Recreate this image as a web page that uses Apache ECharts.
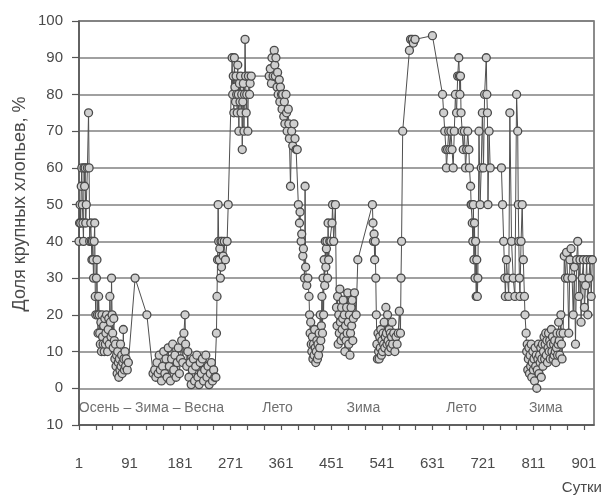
<!DOCTYPE html>
<html><head><meta charset="utf-8">
<script src="https://cdn.jsdelivr.net/npm/echarts@6/dist/echarts.min.js"></script>
<style>html,body{margin:0;padding:0;background:#fff}#c{width:603px;height:498px}</style>
</head><body><div id="c"></div>
<script>
// [day, share of large flakes, %]
const autumnWinterSpring = [[1,40],[2,45],[3,50],[4,45],[5,55],[6,60],[7,50],[8,45],[9,40],[10,60],[11,55],[12,60],[13,45],[14,50],[16,60],[18,75],[19,60],[20,40],[22,45],[23,40],[24,35],[25,40],[26,35],[27,30],[28,40],[29,45],[30,25],[31,20],[32,30],[33,35],[34,20],[35,15],[36,25],[37,20],[38,15],[39,12],[40,18],[41,10],[42,20],[43,14],[44,12],[45,17],[46,10],[47,19],[48,12],[49,15],[50,20],[51,13],[52,10],[53,16],[54,19],[55,12],[56,25],[57,18],[58,14],[59,30],[60,20],[61,15],[62,11],[63,19],[64,13],[65,8],[66,12],[67,6],[68,9],[69,4],[70,10],[71,7],[72,3],[73,8],[74,5],[75,12],[76,6],[77,9],[78,4],[79,7],[80,16],[81,8],[82,5],[83,10],[84,6],[85,8],[87,5],[89,7],[101,30],[122,20],[133,4],[136,5],[138,3],[140,7],[142,4],[144,9],[146,5],[148,2],[150,6],[152,10],[154,4],[156,8],[158,3],[160,11],[162,6],[164,2],[166,8],[168,12],[170,5],[172,9],[174,3],[176,7],[178,11],[180,4],[182,8],[184,13],[186,7],[188,15],[190,20],[191,12],[193,6],[195,10],[197,3],[199,7],[201,1],[203,5],[205,8],[207,2],[209,6],[211,9],[213,3],[215,1],[217,7],[219,4],[221,8],[223,2],[225,5],[227,9],[229,3],[231,6],[233,1],[235,4],[237,7],[239,2],[241,5],[243,3],[245,3],[246,15],[247,25],[248,35],[249,50],[250,40],[251,35],[252,38],[253,30],[254,40],[255,33],[256,40],[258,36],[260,40],[262,35],[265,40],[267,50]];
const summer1 = [[274,90],[275,80],[276,85],[277,75],[278,90],[279,82],[280,78],[281,85],[282,80],[283,75],[284,88],[285,80],[286,70],[287,83],[288,78],[289,85],[290,75],[291,80],[292,65],[293,78],[294,83],[295,70],[296,80],[297,95],[298,85],[299,75],[300,80],[302,70],[303,85],[305,80],[306,83],[308,85],[340,85],[342,87],[344,83],[345,90],[347,85],[349,92],[350,88],[351,85],[352,90],[354,82],[355,86],[356,80],[358,84],[359,78],[360,82],[362,80],[363,76],[364,80],[366,74],[367,78],[368,72],[370,80],[371,75],[372,70],[374,76],[375,72],[376,68],[378,55],[380,70],[382,66],[384,72],[386,68],[388,65],[390,65],[392,50],[394,45],[395,48],[397,40],[398,42],[400,36],[401,38],[403,30],[404,55],[405,33],[407,28],[409,30],[411,25]];
const winter1 = [[412,20],[413,15],[414,18],[415,12],[416,10],[417,14],[418,8],[419,12],[420,9],[421,16],[422,11],[423,7],[424,10],[425,13],[426,8],[427,12],[428,9],[429,15],[430,11],[431,20],[432,13],[433,17],[434,25],[435,15],[436,30],[437,20],[438,35],[439,28],[440,40],[441,33],[442,38],[443,40],[444,30],[445,45],[446,35],[448,40],[450,40],[452,45],[453,50],[455,40],[458,50],[460,22],[461,17],[462,25],[463,12],[464,20],[465,15],[466,27],[467,18],[468,13],[469,22],[470,16],[471,19],[472,24],[473,14],[474,20],[475,10],[476,17],[477,13],[478,22],[479,15],[480,26],[481,18],[482,12],[483,20],[484,9],[485,15],[486,22],[487,17],[488,24],[489,13],[490,19],[492,26],[495,20],[498,35],[524,50],[525,45],[526,40],[527,42],[528,35],[529,40],[530,30],[531,20],[532,12],[533,8],[534,15],[535,10],[536,8],[537,14],[538,11],[539,16],[540,9],[541,13],[542,10],[543,15],[544,12],[545,18],[546,11],[547,14],[548,22],[549,15],[550,12],[551,20],[552,13],[553,10],[554,16],[555,12],[556,15],[557,11],[558,14],[559,18],[560,12],[562,15],[564,10],[566,14],[568,12],[570,15],[572,21],[574,15],[575,30],[576,40],[578,70]];
const summer2 = [[590,92],[592,95],[595,95],[597,94],[600,95],[631,96],[649,80],[651,75],[653,70],[655,65],[656,60],[658,65],[660,70],[662,65],[664,70],[666,65],[668,60],[670,70],[672,80],[674,75],[676,85],[678,90],[679,85],[680,80],[681,85],[682,75],[684,70],[686,65],[688,70],[690,60],[692,65],[694,70],[696,65],[697,60],[699,55],[700,50],[701,50],[702,45],[703,40],[704,50],[705,35],[706,45],[707,30],[708,40],[709,25],[710,35],[711,25],[712,30],[714,70],[716,50],[718,60],[720,75],[722,60],[724,80],[727,90],[728,80],[729,75],[730,50],[732,70],[734,60],[754,60],[756,50],[758,40],[760,30],[761,25],[763,35],[765,30],[767,25],[769,75],[772,40],[775,30],[778,25],[781,80],[783,70],[784,50],[785,40],[786,30],[787,25],[789,40],[791,50],[793,35],[795,25],[796,20]];
const winter2 = [[798,15],[799,10],[800,12],[801,5],[802,8],[803,11],[804,4],[805,9],[806,6],[807,12],[808,3],[809,7],[810,10],[811,5],[812,8],[813,2],[814,11],[815,6],[816,9],[817,0],[818,5],[819,8],[820,12],[821,4],[822,9],[823,7],[824,11],[825,3],[826,8],[827,12],[828,6],[829,10],[830,14],[831,8],[832,12],[833,15],[834,9],[835,13],[836,7],[837,11],[838,15],[839,10],[840,13],[841,8],[842,12],[843,16],[844,10],[845,14],[846,8],[847,12],[848,9],[849,13],[850,10],[851,7],[852,11],[853,15],[854,9],[855,12],[856,18],[857,13],[858,9],[859,15],[860,20],[861,12],[862,8],[864,15],[866,36],[868,30],[870,37],[872,30],[874,15],[876,35],[878,38],[880,30],[882,20],[884,33],[886,12],[888,35],[890,40],[892,25],[894,35],[896,18],[898,30],[900,35],[902,22],[904,28],[906,35],[908,20],[910,30],[912,35],[914,25],[916,35]];

const seasonNames = ['Осень – Зима – Весна', 'Лето', 'Зима', 'Лето', 'Зима'];
const seasonCenters = [130, 355, 508, 683, 833];
const seasonLabelLevel = -5.5;

const yTitle = 'Доля крупных хлопьев, %';
const xTitle = 'Сутки';

const observations = [].concat(autumnWinterSpring, summer1, winter1, summer2, winter2);
const seasonData = seasonNames.map((n, i) => ({ name: n, value: [seasonCenters[i], seasonLabelLevel] }));

const txt = '#4a4a4a';
const chart = echarts.init(document.getElementById('c'), null, { renderer: 'canvas' });
chart.setOption({
  animation: false,
  backgroundColor: '#fff',
  textStyle: { fontFamily: 'Liberation Sans, Arial, sans-serif' },
  grid: { left: 79, right: 9, top: 21, bottom: 73, show: true, borderColor: '#666', borderWidth: 1.5, backgroundColor: 'transparent' },
  xAxis: {
    type: 'value', min: 1, max: 919, interval: 30,
    axisLine: { show: true, onZero: false, lineStyle: { color: '#555', width: 1.5 } },
    axisTick: { show: true, length: 5, lineStyle: { color: '#555', width: 1.2 } },
    axisLabel: { margin: 31, fontSize: 15, color: txt, showMaxLabel: false,
      formatter: v => ((v - 1) % 90 === 0 ? String(v) : '') },
    splitLine: { show: false }
  },
  yAxis: {
    type: 'value', min: -10, max: 100, interval: 10,
    axisLine: { show: true, onZero: false, lineStyle: { color: '#555', width: 1.5 } },
    axisTick: { show: true, length: 7, lineStyle: { color: '#555', width: 1.2 } },
    axisLabel: { margin: 16, fontSize: 15, color: txt, formatter: v => String(Math.abs(v)) },
    splitLine: { show: true, lineStyle: { color: '#808080', width: 1.6 } }
  },
  graphic: [
    { type: 'text', x: 20, y: 204, rotation: Math.PI / 2,
      style: { text: yTitle, fill: txt, font: '18px "Liberation Sans", Arial, sans-serif', textAlign: 'center', textVerticalAlign: 'middle' } },
    { type: 'text', right: 1, bottom: 3,
      style: { text: xTitle, fill: txt, font: '15px "Liberation Sans", Arial, sans-serif' } }
  ],
  series: [
    {
      type: 'line', data: observations, showAllSymbol: true,
      symbol: 'circle', symbolSize: 8,
      lineStyle: { color: '#505050', width: 1 },
      itemStyle: { color: '#cfcfcf', borderColor: '#4a4a4a', borderWidth: 1.3 },
      z: 3
    },
    {
      type: 'scatter', data: seasonData, symbolSize: 0, silent: true,
      label: { show: true, position: 'inside', formatter: p => p.name, fontSize: 14, color: txt }
    }
  ]
});
</script></body></html>
